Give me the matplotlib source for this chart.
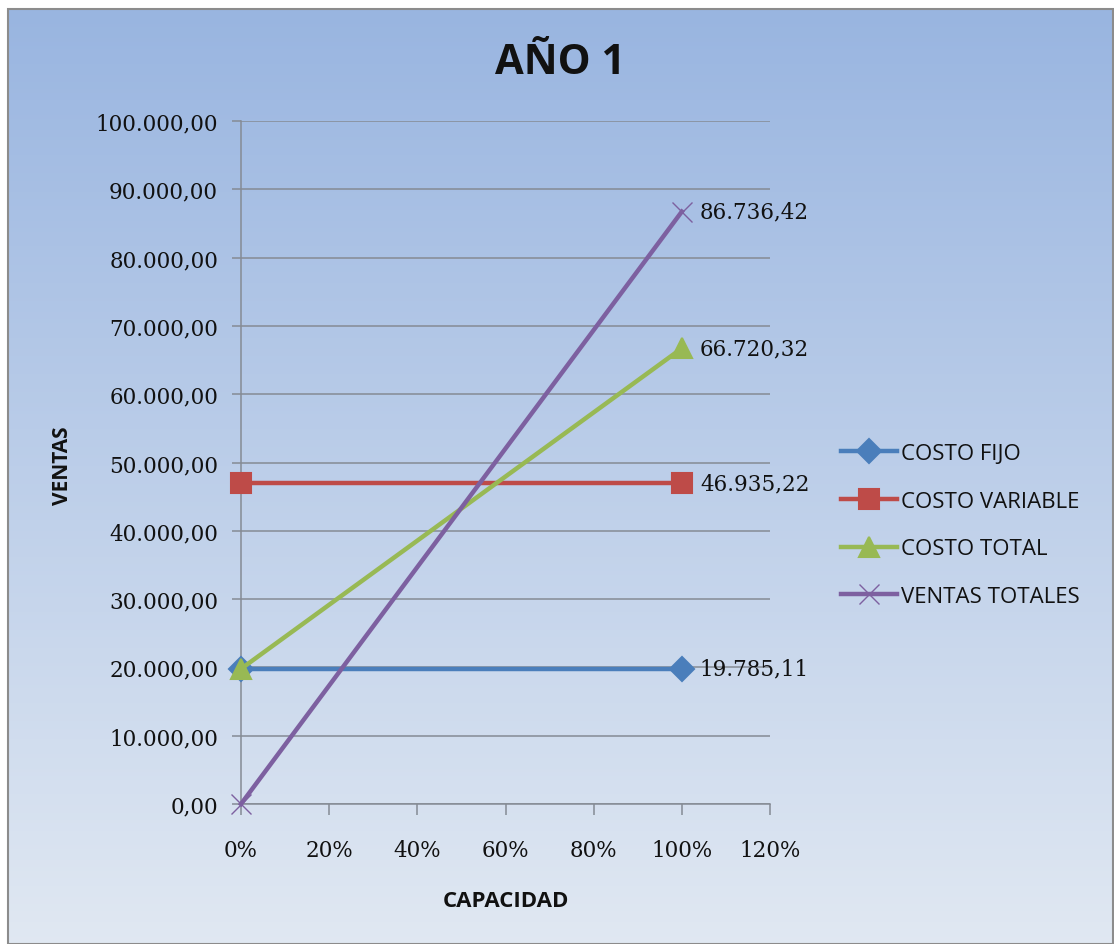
import numpy as np
import matplotlib
matplotlib.use("Agg")
import matplotlib.pyplot as plt
from matplotlib.ticker import FuncFormatter, PercentFormatter
from matplotlib.patches import Rectangle

# capacity levels (fraction of full capacity)
capacidad = [0.0, 1.0]

costo_fijo = [19785.11, 19785.11]
costo_variable = [46935.22, 46935.22]
costo_total = [19785.11, 66720.32]
ventas_totales = [0.0, 86736.42]

series_names = ["COSTO FIJO", "COSTO VARIABLE", "COSTO TOTAL", "VENTAS TOTALES"]
colors = ["#4a7ebb", "#be4b48", "#98b954", "#7d60a0"]
markers = ["D", "s", "^", "x"]
marker_sizes = [12, 14, 14, 15]


def es_number(v, pos=None):
    s = f"{v:,.2f}"
    return s.replace(",", "X").replace(".", ",").replace("X", ".")


W, H = 1114, 945
fig = plt.figure(figsize=(W / 100, H / 100), dpi=100)

# gradient backdrop of the chart area
bg = fig.add_axes([8 / W, 0, 1 - 9 / W, 1 - 10 / H], zorder=0)
grad = np.linspace(0, 1, 256).reshape(-1, 1)
top = np.array([0.60, 0.71, 0.88])
bottom = np.array([0.88, 0.91, 0.95])
img = top + (bottom - top) * grad[:, :, None]
bg.imshow(img, aspect="auto", extent=[0, 1, 0, 1], origin="upper")
bg.add_patch(Rectangle((0, 0), 1, 1, fill=False, edgecolor="#8c8c8c",
                       linewidth=1.5, transform=bg.transAxes, clip_on=False))
bg.set_axis_off()

left, right, top_px, bot_px = 241, 770, 122, 805
ax = fig.add_axes([left / W, 1 - bot_px / H, (right - left) / W, (bot_px - top_px) / H],
                  zorder=1)
ax.patch.set_alpha(0)

num_font = "DejaVu Serif"
data = [costo_fijo, costo_variable, costo_total, ventas_totales]
for vals, name, c, m, ms in zip(data, series_names, colors, markers, marker_sizes):
    ax.plot(capacidad, vals, color=c, linewidth=3.2, marker=m, markersize=ms,
            markeredgewidth=1.5 if m != "x" else 1.0, label=name, zorder=3,
            clip_on=False)
    ax.annotate(es_number(vals[-1]), (capacidad[-1], vals[-1]),
                xytext=(13, 0), textcoords="offset points", va="center", ha="left",
                fontsize=15.5, family=num_font, color="#111111", zorder=4)

ax.set_xlim(0, 1.2)
ax.set_ylim(0, 100000)
ax.set_xticks(np.arange(0, 1.21, 0.2))
ax.set_yticks(np.arange(0, 100001, 10000))
ax.xaxis.set_major_formatter(PercentFormatter(1.0, decimals=0))
ax.yaxis.set_major_formatter(FuncFormatter(es_number))
ax.grid(axis="y", color="#858b94", linewidth=1.1)
ax.set_axisbelow(True)
for side in ["top", "right"]:
    ax.spines[side].set_visible(False)
for side in ["left", "bottom"]:
    ax.spines[side].set_color("#858b94")
    ax.spines[side].set_linewidth(1.1)
ax.tick_params(axis="both", colors="#858b94", width=1.1, labelcolor="#111111",
               labelsize=15.5)
ax.tick_params(axis="x", length=8, pad=17)
ax.tick_params(axis="y", length=6.5, pad=10)
for lbl in ax.get_xticklabels() + ax.get_yticklabels():
    lbl.set_family(num_font)

fig.text(560 / W, 1 - 63 / H, "AÑO 1", ha="center", va="center",
         fontsize=30, fontweight="bold", family="Open Sans", color="#111111")
fig.text(62 / W, 1 - 466 / H, "VENTAS", ha="center", va="center", rotation=90,
         fontsize=15, fontweight="bold", family="Open Sans", color="#111111")
fig.text(506 / W, 1 - 902 / H, "CAPACIDAD", ha="center", va="center",
         fontsize=16, fontweight="bold", family="Open Sans", color="#111111")

leg = fig.legend(loc="upper left", bbox_to_anchor=(821 / W, 1 - 424 / H),
                 frameon=False, handlelength=2.5, handletextpad=0.2,
                 labelspacing=1.2, prop={"family": "Open Sans", "size": 16})
for t in leg.get_texts():
    t.set_color("#111111")

fig.savefig("out.png", dpi=100)
